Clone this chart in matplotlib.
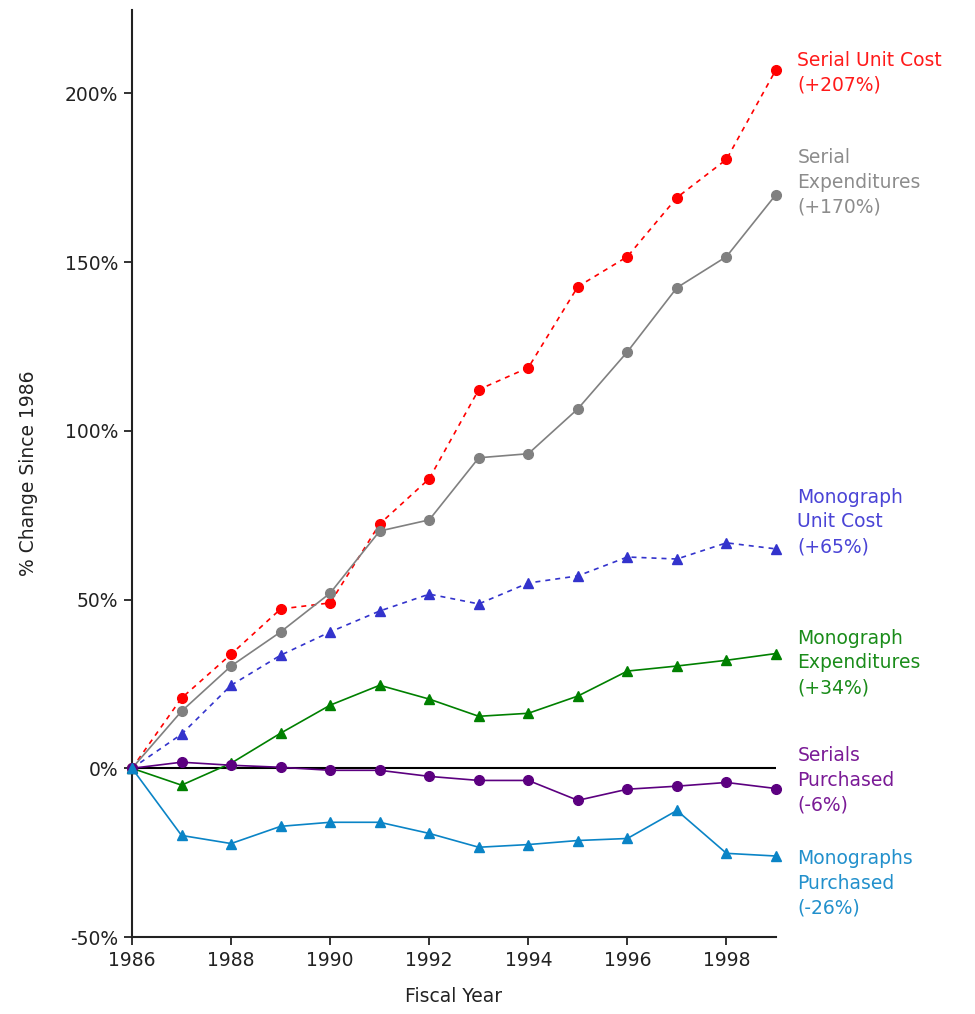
import matplotlib.pyplot as plt
from matplotlib.ticker import FuncFormatter

plt.rcParams['font.family'] = ['DejaVu Sans']

# data (% change since 1986)
years = list(range(1986, 2000))
serial_unit_cost = [0, 20.8, 33.8, 47.2, 49.0, 72.4, 85.8, 112.2, 118.7, 142.7, 151.6, 169.1, 180.4, 207]
serial_exp = [0, 16.9, 30.3, 40.4, 51.9, 70.3, 73.6, 92.0, 93.2, 106.5, 123.4, 142.4, 151.6, 170]
mono_unit_cost = [0, 10.1, 24.6, 33.5, 40.4, 46.6, 51.6, 48.7, 54.9, 57.0, 62.6, 62.0, 66.8, 65]
mono_exp = [0, -5.0, 1.5, 10.4, 18.7, 24.6, 20.5, 15.4, 16.3, 21.4, 28.8, 30.3, 32.0, 34]
serials_purch = [0, 1.8, 0.9, 0.3, -0.6, -0.6, -2.4, -3.6, -3.6, -9.5, -6.2, -5.3, -4.2, -6]
monos_purch = [0, -19.9, -22.3, -17.2, -16.0, -16.0, -19.3, -23.4, -22.6, -21.4, -20.8, -12.5, -25.2, -26]

labels = ['Serial Unit Cost\n(+207%)', 'Serial\nExpenditures\n(+170%)',
          'Monograph\nUnit Cost\n(+65%)', 'Monograph\nExpenditures\n(+34%)',
          'Serials\nPurchased\n(-6%)', 'Monographs\nPurchased\n(-26%)']

series = [serial_unit_cost, serial_exp, mono_unit_cost, mono_exp, serials_purch, monos_purch]
line_colors = ['#ff0000', '#808080', '#3333cc', '#008000', '#5c0080', '#0a84c6']
text_colors = ['#ff1a1a', '#8c8c8c', '#4a44d6', '#1a8c1a', '#7a1a96', '#2290cc']
markers = ['o', 'o', '^', '^', 'o', '^']
styles = [(0, (3, 3)), '-', (0, (3, 3)), '-', '-', '-']
label_y = [206.1, 173.6, 73.0, 31.2, -3.6, -34.1]

fs = 13.5

fig = plt.figure(figsize=(9.75, 10.14), dpi=100)
ax = fig.add_axes([0.1354, 0.0759, 0.6605, 0.914])

ax.plot([years[0], years[-1]], [0, 0], color='black', lw=1.5, zorder=1)

for s, c, m, ls in zip(series, line_colors, markers, styles):
    ax.plot(years, s, color=c, marker=m, linestyle=ls, lw=1.2, markersize=7,
            clip_on=False, zorder=3)

for lab, ly, tc in zip(labels, label_y, text_colors):
    ax.text(years[-1] + 0.43, ly, lab, color=tc, fontsize=fs, va='center',
            ha='left', linespacing=1.38, clip_on=False)

ax.set_xlim(1986, 1999)
ax.set_ylim(-50, 224.6)
ax.set_xticks(range(1986, 2000, 2))
ax.set_yticks([-50, 0, 50, 100, 150, 200])
ax.yaxis.set_major_formatter(FuncFormatter(lambda v, p: '%d%%' % v))

for side in ['top', 'right']:
    ax.spines[side].set_visible(False)
for side in ['left', 'bottom']:
    ax.spines[side].set_linewidth(1.5)
    ax.spines[side].set_color('#222222')
ax.tick_params(labelsize=fs, length=6, width=1.3, color='#222222', labelcolor='#222222', pad=4)

ax.set_xlabel('Fiscal Year', fontsize=fs, color='#222222', labelpad=12)
ax.set_ylabel('% Change Since 1986', fontsize=fs, color='#222222', labelpad=19)

fig.savefig('out.png', dpi=100)
